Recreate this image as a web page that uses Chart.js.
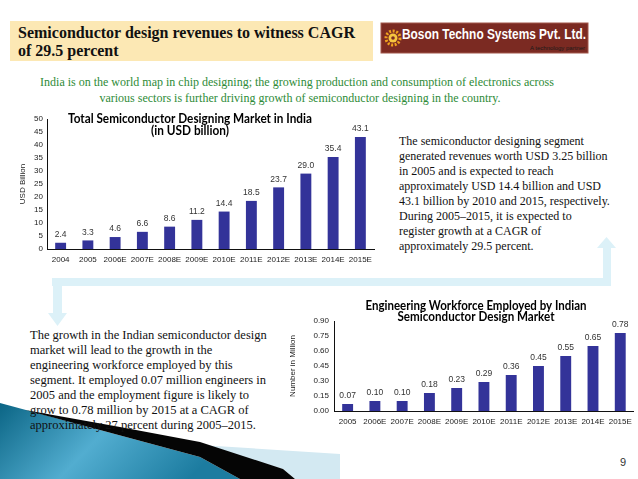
<!DOCTYPE html>
<html>
<head>
<meta charset="utf-8">
<script src="https://cdn.jsdelivr.net/npm/chart.js@4.4.1/dist/chart.umd.min.js"></script>
<style>
body { margin: 0; background: #fff; }
#page { position: relative; width: 638px; height: 479px; overflow: hidden; background: #fff; }
#page svg { position: absolute; left: 0; top: 0; }
#page canvas { position: absolute; }
.serif { font-family: 'Liberation Serif', 'Times New Roman', serif; }
</style>
</head>
<body>
<div id="page">
<svg width="638" height="479">
  <defs>
    <linearGradient id="teal" x1="0" y1="0" x2="1" y2="0.3">
      <stop offset="0" stop-color="#0b6585"/>
      <stop offset="0.5" stop-color="#52add0"/>
      <stop offset="1" stop-color="#1c7ca0"/>
    </linearGradient>
  </defs>

  <!-- heading box -->
  <rect x="10" y="21" width="363" height="40" fill="#fce8b4"/>
  <text class="serif" x="18" y="38" font-size="16" font-weight="bold" fill="#111" textLength="337" lengthAdjust="spacingAndGlyphs">Semiconductor design revenues to witness CAGR</text>
  <text class="serif" x="18" y="56" font-size="16" font-weight="bold" fill="#111">of 29.5 percent</text>

  <!-- logo -->
  <rect x="381" y="23" width="207" height="30" fill="#7b2a22" stroke="#a2574a" stroke-width="1"/>
  <circle cx="393" cy="38" r="7" fill="none" stroke="#f0a21e" stroke-width="3" stroke-dasharray="2 1.6"/>
  <circle cx="393" cy="38" r="4.5" fill="#f6c640"/>
  <circle cx="393" cy="38" r="1.8" fill="#7b2a22"/>
  <text x="402" y="39" font-family="'Liberation Sans', Arial, sans-serif" font-size="14" font-weight="bold" fill="#fff" textLength="184" lengthAdjust="spacingAndGlyphs">Boson Techno Systems Pvt. Ltd.</text>
  <text x="585" y="50" text-anchor="end" font-family="'Liberation Sans', Arial, sans-serif" font-size="6" fill="#1a1a1a">A technology partner</text>

  <!-- intro -->
  <text class="serif" x="297" y="86" text-anchor="middle" font-size="12" fill="#2e8b37">India is on the world map in chip designing; the growing production and consumption of electronics across</text>
  <text class="serif" x="300" y="102" text-anchor="middle" font-size="12" fill="#2e8b37">various sectors is further driving growth of semiconductor designing in the country.</text>

  <!-- right paragraph -->
  <g class="serif" font-size="12" fill="#111">
    <text x="399" y="145">The semiconductor designing segment</text>
    <text x="399" y="160">generated revenues worth USD 3.25 billion</text>
    <text x="399" y="175">in 2005 and is expected to reach</text>
    <text x="399" y="190">approximately USD 14.4 billion and USD</text>
    <text x="399" y="205">43.1 billion by 2010 and 2015, respectively.</text>
    <text x="399" y="220">During 2005–2015, it is expected to</text>
    <text x="399" y="235">register growth at a CAGR of</text>
    <text x="399" y="250">approximately 29.5 percent.</text>
  </g>

  <!-- connector arrow -->
  <g fill="#dcf1f8">
    <rect x="52" y="278" width="559" height="8"/>
    <rect x="603" y="247" width="8" height="33"/>
    <polygon points="597,248 616,248 606.5,237"/>
    <rect x="53" y="284" width="9" height="30"/>
    <polygon points="48,313 67,313 57.5,326"/>
  </g>

  <!-- bottom swoosh -->
  <polygon points="200,445 340,454 340,479 295,479 283,469" fill="#d3e9f2"/>
  <polygon points="0,403 100,430 200,457 240,479 0,479" fill="url(#teal)"/>
  <polygon points="25,410 120,427 200,442 283,469 295,479 240,479 200,457 100,430" fill="#050505"/>

  <!-- left paragraph -->
  <g class="serif" font-size="12.5" fill="#111">
    <text x="30" y="339">The growth in the Indian semiconductor design</text>
    <text x="30" y="354">market will lead to the growth in the</text>
    <text x="30" y="369">engineering workforce employed by this</text>
    <text x="30" y="384">segment. It employed 0.07 million engineers in</text>
    <text x="30" y="399">2005 and the employment figure is likely to</text>
    <text x="30" y="414">grow to 0.78 million by 2015 at a CAGR of</text>
    <text x="30" y="429">approximately 27 percent during 2005–2015.</text>
  </g>

  <text x="620" y="466" font-family="'Liberation Sans', Arial, sans-serif" font-size="11" fill="#333">9</text>
</svg>
<canvas id="marketChart" width="390" height="165" style="left:0;top:105px"></canvas>
<canvas id="workforceChart" width="358" height="150" style="left:280px;top:290px"></canvas>
</div>

<script>
const marketYears = ['2004', '2005', '2006E', '2007E', '2008E', '2009E', '2010E', '2011E', '2012E', '2013E', '2014E', '2015E'];
const marketValues = [2.4, 3.3, 4.6, 6.6, 8.6, 11.2, 14.4, 18.5, 23.7, 29.0, 35.4, 43.1];
const marketTitle = ['Total Semiconductor Designing Market in India', '(in USD billion)'];

const workforceYears = ['2005', '2006E', '2007E', '2008E', '2009E', '2010E', '2011E', '2012E', '2013E', '2014E', '2015E'];
const workforceValues = [0.07, 0.10, 0.10, 0.18, 0.23, 0.29, 0.36, 0.45, 0.55, 0.65, 0.78];
const workforceTitle = ['Engineering Workforce Employed by Indian', 'Semiconductor Design Market'];

const barColor = '#333399';

Chart.defaults.font.family = "'Liberation Sans', Arial, sans-serif";
Chart.defaults.font.size = 8;
Chart.defaults.color = '#222';

// value printed above each bar
const barValueLabels = {
    id: 'barValueLabels',
    afterDatasetsDraw(chart, args, opts) {
        const ctx = chart.ctx;
        const values = chart.data.datasets[0].data;
        ctx.save();
        ctx.font = "8.5px 'Liberation Sans', Arial, sans-serif";
        ctx.fillStyle = '#333';
        ctx.textAlign = 'center';
        ctx.textBaseline = 'middle';
        chart.getDatasetMeta(0).data.forEach((bar, i) => {
            ctx.fillText(values[i].toFixed(opts.decimals), bar.x, bar.y - opts.gap);
        });
        ctx.restore();
    }
};

// title drawn over the plot, like the slide does
const innerTitle = {
    id: 'innerTitle',
    afterDraw(chart, args, opts) {
        const ctx = chart.ctx;
        ctx.save();
        ctx.font = "bold 12.5px Lato, 'Liberation Sans', sans-serif";
        ctx.fillStyle = '#000';
        ctx.textAlign = 'center';
        ctx.textBaseline = 'middle';
        opts.lines.forEach((line, i) => {
            ctx.fillText(line, opts.x, opts.y + i * opts.lineGap, opts.widths[i]);
        });
        ctx.restore();
    }
};

new Chart(document.getElementById('marketChart'), {
    type: 'bar',
    data: {
        labels: marketYears,
        datasets: [{
            data: marketValues,
            backgroundColor: barColor,
            barPercentage: 0.4,
            categoryPercentage: 1
        }]
    },
    options: {
        responsive: false,
        animation: false,
        layout: { padding: { top: 14, right: 16, left: 0, bottom: 0 } },
        plugins: {
            legend: { display: false },
            tooltip: { enabled: false },
            barValueLabels: { decimals: 1, gap: 8 },
            innerTitle: { lines: marketTitle, x: 190, y: 14, lineGap: 12, widths: [244, 78] }
        },
        scales: {
            x: {
                grid: { display: false, drawTicks: false },
                border: { color: '#111' },
                ticks: { padding: 6, autoSkip: false, maxRotation: 0 },
                afterFit(scale) { scale.height = 21; }
            },
            y: {
                min: 0,
                max: 50,
                ticks: { stepSize: 5, padding: 4 },
                grid: { display: false, drawTicks: false },
                border: { color: '#111' },
                title: { display: true, text: 'USD Billion', padding: { top: 18, bottom: 0 }, font: { size: 8 } },
                afterFit(scale) { scale.width = 47; }
            }
        }
    },
    plugins: [barValueLabels, innerTitle]
});

new Chart(document.getElementById('workforceChart'), {
    type: 'bar',
    data: {
        labels: workforceYears,
        datasets: [{
            data: workforceValues,
            backgroundColor: barColor,
            barPercentage: 0.4,
            categoryPercentage: 1
        }]
    },
    options: {
        responsive: false,
        animation: false,
        layout: { padding: { top: 31, right: 4, left: 0, bottom: 0 } },
        plugins: {
            legend: { display: false },
            tooltip: { enabled: false },
            barValueLabels: { decimals: 2, gap: 8.5 },
            innerTitle: { lines: workforceTitle, x: 196, y: 16, lineGap: 11, widths: [221, 157] }
        },
        scales: {
            x: {
                grid: { display: false, drawTicks: false },
                border: { color: '#111' },
                ticks: { padding: 6, autoSkip: false, maxRotation: 0 },
                afterFit(scale) { scale.height = 29; }
            },
            y: {
                min: 0,
                max: 0.9,
                ticks: { stepSize: 0.15, padding: 5, callback: v => v.toFixed(2) },
                grid: { display: false, drawTicks: false },
                border: { color: '#111' },
                title: { display: true, text: 'Number in Million', padding: { top: 8, bottom: 0 }, font: { size: 8 } },
                afterFit(scale) { scale.width = 54; }
            }
        }
    },
    plugins: [barValueLabels, innerTitle]
});
</script>
</body>
</html>
